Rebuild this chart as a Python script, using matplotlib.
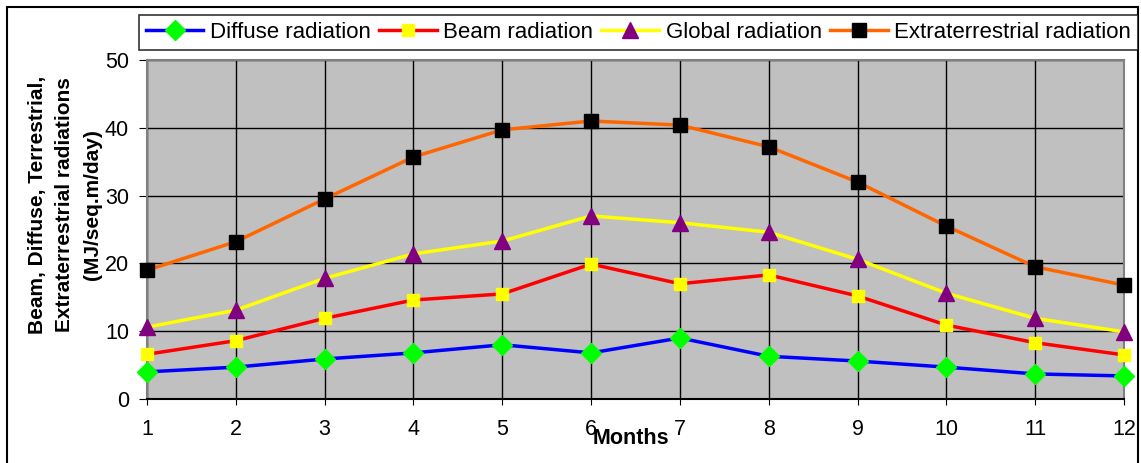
import matplotlib
matplotlib.use('Agg')
import matplotlib.pyplot as plt
from matplotlib.patches import Rectangle
import numpy as np

plt.rcParams['font.family'] = ['Liberation Sans', 'DejaVu Sans']

months = [1, 2, 3, 4, 5, 6, 7, 8, 9, 10, 11, 12]
diffuse = [4.0, 4.7, 5.9, 6.8, 8.0, 6.8, 9.0, 6.3, 5.6, 4.7, 3.7, 3.4]
beam = [6.6, 8.6, 11.9, 14.6, 15.5, 19.9, 17.0, 18.3, 15.2, 10.9, 8.3, 6.5]
global_rad = [10.6, 13.1, 17.8, 21.4, 23.3, 27.0, 26.0, 24.6, 20.6, 15.6, 11.9, 9.9]
extra = [19.0, 23.2, 29.5, 35.7, 39.7, 41.0, 40.4, 37.2, 32.0, 25.5, 19.5, 16.8]

W, H = 1141, 463
fig = plt.figure(figsize=(W / 100, H / 100), dpi=100)
ax = fig.add_axes([147 / W, 1 - 399 / H, (1124 - 147) / W, (399 - 60) / H])
ax.set_facecolor('#C0C0C0')

lw = 2.5
ax.plot(months, diffuse, color='#0000FF', lw=lw, marker='D', ms=10,
        mfc='#00FF00', mec='#00FF00', label='Diffuse radiation',
        zorder=3, clip_on=False)
ax.plot(months, beam, color='#FF0000', lw=lw, marker='s', ms=8,
        mfc='#FFFF00', mec='#FFFF00', label='Beam radiation',
        zorder=3, clip_on=False)
ax.plot(months, global_rad, color='#FFFF00', lw=lw, marker='^', ms=11.5,
        mfc='#800080', mec='#800080', label='Global radiation',
        zorder=3, clip_on=False)
ax.plot(months, extra, color='#FF6600', lw=lw, marker='s', ms=9.5,
        mfc='#000000', mec='#000000', label='Extraterrestrial radiation',
        zorder=3, clip_on=False)

ax.set_xlim(1, 12)
ax.set_ylim(0, 50)
ax.set_xticks(months)
ax.set_yticks(np.arange(0, 51, 10))
ax.grid(True, color='black', lw=1)
ax.set_axisbelow(True)
for s in ax.spines.values():
    s.set_color('#808080')
    s.set_linewidth(1.5)
ax.spines['bottom'].set_color('black')
ax.tick_params(axis='both', labelsize=15.5, direction='out', color='black')
ax.tick_params(axis='y', length=6, pad=7)
ax.tick_params(axis='x', length=4.5, pad=10)

fig.text(65 / W, 1 - 205 / H,
         'Beam, Diffuse, Terrestrial,\nExtraterrestrial radiations\n(MJ/seq.m/day)',
         rotation=90, ha='center', va='center', fontsize=15, fontweight='bold',
         linespacing=1.55, multialignment='center')
fig.text(631 / W, 1 - 438 / H, 'Months', ha='center', va='center',
         fontsize=15.5, fontweight='bold')

leg = fig.legend(loc='center', ncol=4, mode='expand',
                 bbox_to_anchor=(139 / W, 1 - 53 / H, (1138 - 139) / W, 41 / H),
                 fontsize=16, frameon=True, fancybox=False, handlelength=2.6,
                 handletextpad=0.3, columnspacing=0.8, borderaxespad=0,
                 borderpad=0.3)
leg.get_frame().set_edgecolor('black')
leg.get_frame().set_linewidth(1.2)

fig.patches.append(Rectangle((7 / W, -0.05), (1138 - 7) / W, 1.05 - 7 / H,
                             transform=fig.transFigure, fill=False,
                             edgecolor='black', lw=1.5))

fig.savefig('out.png', dpi=100)
